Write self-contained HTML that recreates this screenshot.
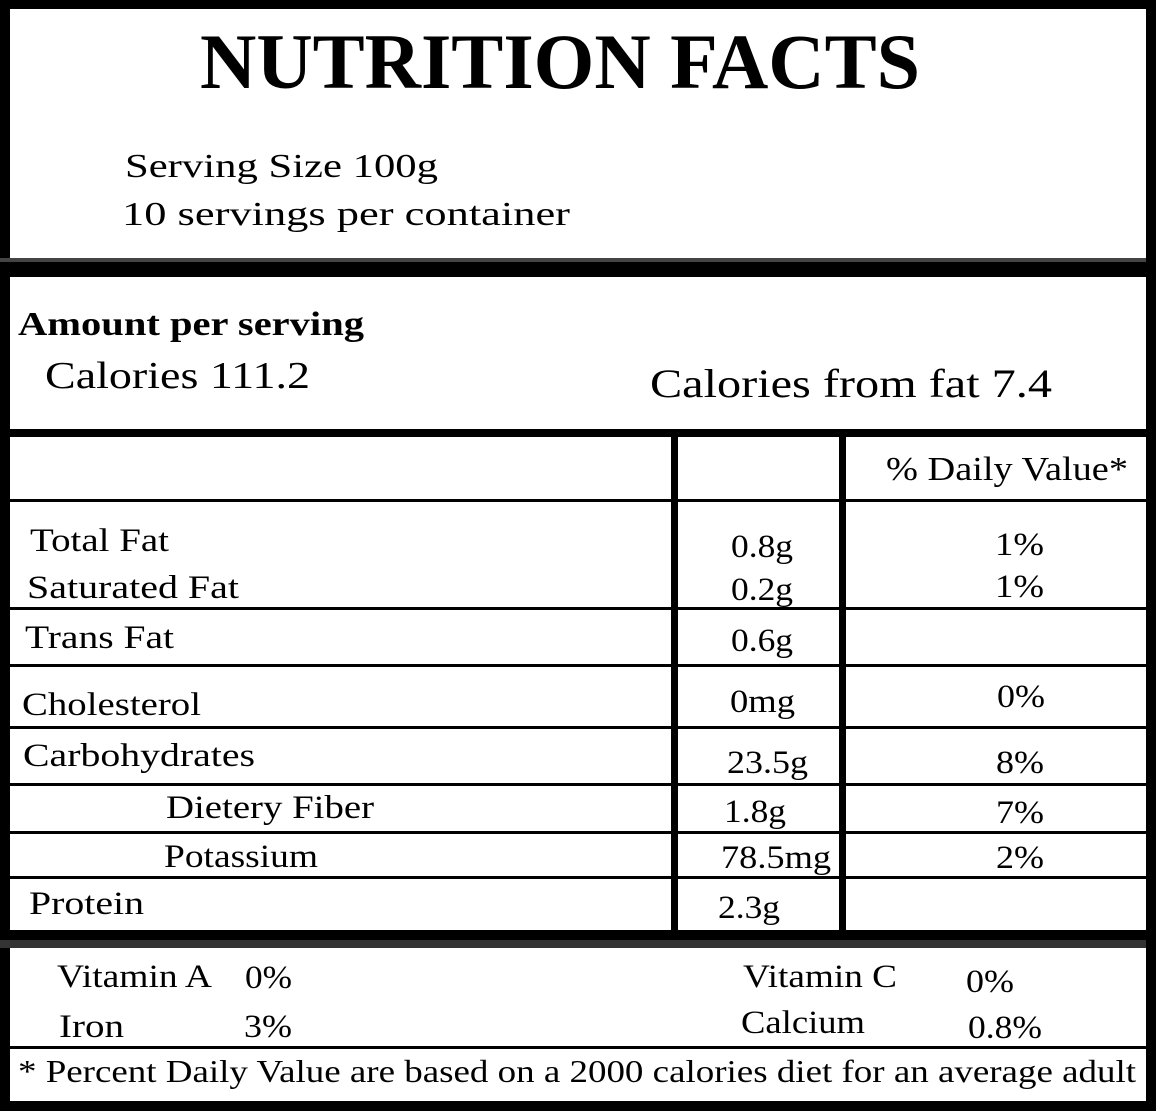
<!DOCTYPE html>
<html><head><meta charset="utf-8"><style>
html,body{margin:0;padding:0;background:#fff;}
svg{display:block;}
text{font-family:"Liberation Serif",serif;fill:#000;}
</style></head><body>
<svg width="1156" height="1111" viewBox="0 0 1156 1111">
<rect x="0" y="0" width="1156" height="1111" fill="#fff"/>
<!-- borders -->
<rect x="0" y="0" width="1156" height="9" fill="#000"/>
<rect x="0" y="0" width="10" height="1111" fill="#000"/>
<rect x="1146" y="0" width="10" height="1111" fill="#000"/>
<rect x="0" y="1101" width="1156" height="10" fill="#000"/>
<!-- horizontal rules -->
<rect x="0" y="258" width="1156" height="4" fill="#444"/>
<rect x="0" y="262" width="1156" height="15" fill="#000"/>
<rect x="0" y="429" width="1156" height="8" fill="#000"/>
<rect x="0" y="499" width="1156" height="3" fill="#000"/>
<rect x="0" y="607" width="1156" height="3" fill="#000"/>
<rect x="0" y="664" width="1156" height="3" fill="#000"/>
<rect x="0" y="726" width="1156" height="3" fill="#000"/>
<rect x="0" y="783" width="1156" height="3" fill="#000"/>
<rect x="0" y="831" width="1156" height="3" fill="#000"/>
<rect x="0" y="876" width="1156" height="3" fill="#000"/>
<rect x="0" y="930" width="1156" height="10" fill="#000"/>
<rect x="0" y="940" width="1156" height="8" fill="#333"/>
<rect x="0" y="1046" width="1156" height="3" fill="#000"/>
<!-- vertical rules -->
<rect x="671" y="437" width="7" height="503" fill="#000"/>
<rect x="839" y="437" width="7" height="503" fill="#000"/>

<text x="200" y="88" font-size="78" font-weight="bold" textLength="720" lengthAdjust="spacingAndGlyphs">NUTRITION FACTS</text>
<text x="125" y="177" font-size="34" textLength="313" lengthAdjust="spacingAndGlyphs">Serving Size 100g</text>
<text x="122" y="225" font-size="34" textLength="448" lengthAdjust="spacingAndGlyphs">10  servings per container</text>
<text x="18" y="335" font-size="34" font-weight="bold" textLength="346" lengthAdjust="spacingAndGlyphs">Amount per serving</text>
<text x="45" y="388" font-size="38" textLength="265" lengthAdjust="spacingAndGlyphs">Calories  111.2</text>
<text x="650" y="397" font-size="40" textLength="402" lengthAdjust="spacingAndGlyphs">Calories from fat  7.4</text>
<text x="886" y="480" font-size="34" textLength="242" lengthAdjust="spacingAndGlyphs">% Daily Value*</text>

<g font-size="33">
<text x="30" y="551" textLength="139" lengthAdjust="spacingAndGlyphs">Total Fat</text>
<text x="731" y="557" textLength="62" lengthAdjust="spacingAndGlyphs">0.8g</text>
<text x="995" y="555" textLength="49" lengthAdjust="spacingAndGlyphs">1%</text>
<text x="27" y="598" textLength="212" lengthAdjust="spacingAndGlyphs">Saturated Fat</text>
<text x="731" y="600" textLength="62" lengthAdjust="spacingAndGlyphs">0.2g</text>
<text x="995" y="597" textLength="49" lengthAdjust="spacingAndGlyphs">1%</text>
<text x="25" y="648" textLength="149" lengthAdjust="spacingAndGlyphs">Trans Fat</text>
<text x="731" y="651" textLength="62" lengthAdjust="spacingAndGlyphs">0.6g</text>
<text x="22" y="715" textLength="179" lengthAdjust="spacingAndGlyphs">Cholesterol</text>
<text x="730" y="712" textLength="65" lengthAdjust="spacingAndGlyphs">0mg</text>
<text x="997" y="707" textLength="48" lengthAdjust="spacingAndGlyphs">0%</text>
<text x="23" y="766" textLength="232" lengthAdjust="spacingAndGlyphs">Carbohydrates</text>
<text x="727" y="773" textLength="81" lengthAdjust="spacingAndGlyphs">23.5g</text>
<text x="996" y="773" textLength="48" lengthAdjust="spacingAndGlyphs">8%</text>
<text x="166" y="818" textLength="208" lengthAdjust="spacingAndGlyphs">Dietery Fiber</text>
<text x="724" y="822" textLength="62" lengthAdjust="spacingAndGlyphs">1.8g</text>
<text x="996" y="823" textLength="48" lengthAdjust="spacingAndGlyphs">7%</text>
<text x="164" y="867" textLength="154" lengthAdjust="spacingAndGlyphs">Potassium</text>
<text x="721" y="868" textLength="110" lengthAdjust="spacingAndGlyphs">78.5mg</text>
<text x="996" y="868" textLength="48" lengthAdjust="spacingAndGlyphs">2%</text>
<text x="29" y="914" textLength="115" lengthAdjust="spacingAndGlyphs">Protein</text>
<text x="718" y="918" textLength="62" lengthAdjust="spacingAndGlyphs">2.3g</text>
</g>

<g font-size="33">
<text x="57" y="987" textLength="155" lengthAdjust="spacingAndGlyphs">Vitamin A</text>
<text x="245" y="988" textLength="47" lengthAdjust="spacingAndGlyphs">0%</text>
<text x="743" y="987" textLength="154" lengthAdjust="spacingAndGlyphs">Vitamin C</text>
<text x="966" y="992" textLength="48" lengthAdjust="spacingAndGlyphs">0%</text>
<text x="59" y="1037" textLength="65" lengthAdjust="spacingAndGlyphs">Iron</text>
<text x="244" y="1037" textLength="48" lengthAdjust="spacingAndGlyphs">3%</text>
<text x="741" y="1033" textLength="124" lengthAdjust="spacingAndGlyphs">Calcium</text>
<text x="968" y="1038" textLength="74" lengthAdjust="spacingAndGlyphs">0.8%</text>
</g>
<text x="18" y="1082" font-size="32" textLength="1118" lengthAdjust="spacingAndGlyphs">* Percent Daily Value are based on a 2000 calories diet for an average adult</text>
<rect x="1146" y="0" width="10" height="1111" fill="#000"/>
</svg>
</body></html>
